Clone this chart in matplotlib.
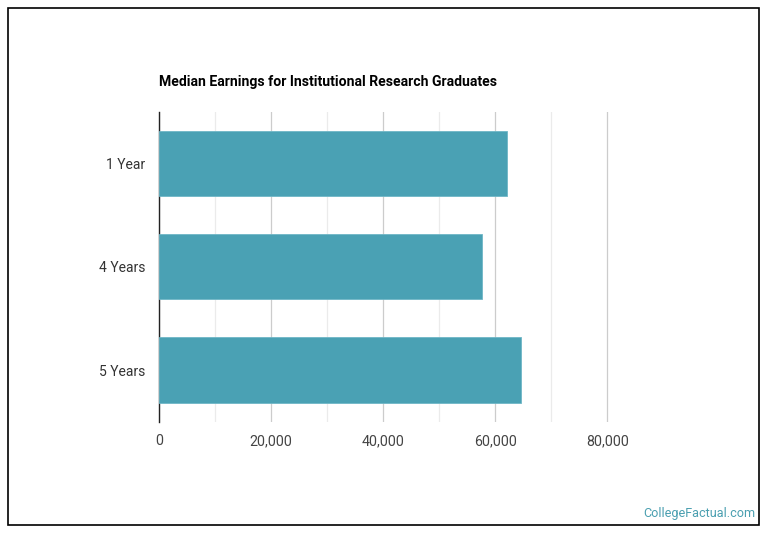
import matplotlib.pyplot as plt
from matplotlib.ticker import MultipleLocator, FuncFormatter
from matplotlib.patches import Rectangle

plt.rcParams['font.family'] = ['Roboto', 'DejaVu Sans']

# data
categories = ['1 Year', '4 Years', '5 Years']
earnings = [62000, 57700, 64500]
title = 'Median Earnings for Institutional Research Graduates'
bar_color = '#4aa1b4'

W, H = 770, 536
fig = plt.figure(figsize=(W / 100, H / 100), dpi=100)

# outer frame
fig.patches.append(Rectangle((8 / W, 1 - 525 / H), 751 / W, 517 / H,
                             transform=fig.transFigure, fill=False,
                             edgecolor='black', linewidth=1.2))

x0, x1 = 159.3, 159.3 + 476
y0, y1 = 111.7, 421.7
ax = fig.add_axes([x0 / W, 1 - y1 / H, (x1 - x0) / W, (y1 - y0) / H])

pos = list(range(len(categories)))
ax.barh(pos, earnings, height=0.63, color=bar_color,
        edgecolor='#6fb6c6', linewidth=0.6, zorder=3)
ax.set_ylim(len(categories) - 0.5, -0.5)
ax.set_xlim(0, 85000)

ax.set_yticks(pos)
ax.set_yticklabels(categories)
ax.xaxis.set_major_locator(MultipleLocator(20000))
ax.xaxis.set_minor_locator(MultipleLocator(10000))
ax.xaxis.set_major_formatter(FuncFormatter(lambda v, p: f'{int(v):,}'))

ax.grid(axis='x', which='major', color='#cccccc', linewidth=0.9, zorder=0)
ax.grid(axis='x', which='minor', color='#ebebeb', linewidth=0.9, zorder=0)
ax.tick_params(axis='both', which='both', length=0)
ax.tick_params(axis='y', pad=10, labelsize=10, labelcolor='#333333')
ax.tick_params(axis='x', pad=9, labelsize=10.3, labelcolor='#444444')

for s in ['top', 'right', 'bottom']:
    ax.spines[s].set_visible(False)
ax.spines['left'].set_color('#222222')
ax.spines['left'].set_linewidth(1)

fig.text(159 / W, 1 - 82 / H, title, fontsize=10.1, fontweight='bold',
         ha='left', va='center', color='black')
fig.text(755 / W, 1 - 513 / H, 'CollegeFactual.com', fontsize=9.1,
         ha='right', va='center', color='#4a9fb0')

fig.savefig('out.png', dpi=100)
